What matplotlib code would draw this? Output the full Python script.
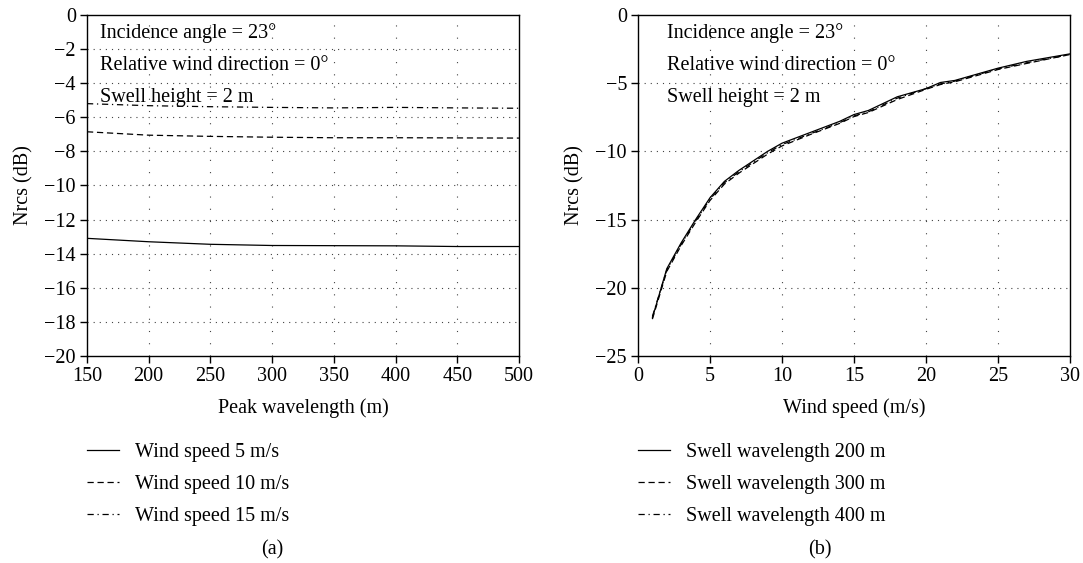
import matplotlib.pyplot as plt

plt.rcParams['font.family'] = ['Liberation Serif', 'DejaVu Serif']
plt.rcParams['font.size'] = 14.5

# (a) Nrcs against swell peak wavelength
peak_wl = [150, 200, 250, 300, 350, 400, 450, 500]
nrcs_ws5 = [-13.10, -13.30, -13.45, -13.52, -13.53, -13.54, -13.58, -13.58]
nrcs_ws10 = [-6.85, -7.05, -7.12, -7.17, -7.20, -7.20, -7.21, -7.22]
nrcs_ws15 = [-5.20, -5.32, -5.38, -5.42, -5.45, -5.42, -5.45, -5.47]

# (b) Nrcs against wind speed
wind = [1, 2, 3, 4, 5, 6, 7, 8, 9, 10, 12, 14, 15, 16, 18, 20, 21, 22, 25, 27, 30]
nrcs_sw200 = [-22.2, -18.6, -16.7, -15.0, -13.4, -12.2, -11.4, -10.7, -10.0, -9.4,
              -8.6, -7.8, -7.3, -7.0, -6.0, -5.4, -4.95, -4.8, -3.9, -3.4, -2.85]
nrcs_sw300 = [-22.3, -18.8, -16.9, -15.2, -13.6, -12.4, -11.6, -10.9, -10.2, -9.6,
              -8.75, -7.95, -7.45, -7.15, -6.2, -5.45, -5.1, -4.9, -4.0, -3.55, -2.9]
nrcs_sw400 = [-22.1, -18.7, -16.8, -15.1, -13.5, -12.3, -11.5, -10.8, -10.1, -9.5,
              -8.7, -7.9, -7.4, -7.1, -6.1, -5.4, -5.05, -4.85, -3.95, -3.5, -2.9]

notes = ['Incidence angle = 23°', 'Relative wind direction = 0°', 'Swell height = 2 m']

fig = plt.figure(figsize=(10.83, 5.63), dpi=100)
ax1 = fig.add_axes([0.0803, 0.3677, 0.3989, 0.6057])
ax2 = fig.add_axes([0.5891, 0.3677, 0.3989, 0.6057])

lw = 0.9
dash = (0, (5, 3))
dashdot = (0, (5, 3, 1, 3))

ax1.plot(peak_wl, nrcs_ws5, color='black', lw=lw, ls='-', label='Wind speed 5 m/s')
ax1.plot(peak_wl, nrcs_ws10, color='black', lw=lw, ls=dash, label='Wind speed 10 m/s')
ax1.plot(peak_wl, nrcs_ws15, color='black', lw=lw, ls=dashdot, label='Wind speed 15 m/s')
ax1.set_xlim(150, 500)
ax1.set_ylim(-20, 0)
ax1.set_xticks(range(150, 501, 50))
ax1.set_yticks(range(-20, 1, 2))
ax1.set_yticklabels([f'{v}'.replace('-', '\u2212') for v in range(-20, 1, 2)])
ax1.set_xlabel('Peak wavelength (m)', labelpad=9)
ax1.set_ylabel('Nrcs (dB)', labelpad=8)

ax2.plot(wind, nrcs_sw200, color='black', lw=lw, ls='-', label='Swell wavelength 200 m')
ax2.plot(wind, nrcs_sw300, color='black', lw=lw, ls=dash, label='Swell wavelength 300 m')
ax2.plot(wind, nrcs_sw400, color='black', lw=lw, ls=dashdot, label='Swell wavelength 400 m')
ax2.set_xlim(0, 30)
ax2.set_ylim(-25, 0)
ax2.set_xticks(range(0, 31, 5))
ax2.set_yticks(range(-25, 1, 5))
ax2.set_yticklabels([f'{v}'.replace('-', '\u2212') for v in range(-25, 1, 5)])
ax2.set_xlabel('Wind speed (m/s)', labelpad=9)
ax2.set_ylabel('Nrcs (dB)', labelpad=8)

for ax, tx in ((ax1, 0.03), (ax2, 0.067)):
    for sp in ax.spines.values():
        sp.set_linewidth(1.0)
    ax.tick_params(direction='out', length=5, width=1.0, pad=3)
    # sparse dotted grid on the inner ticks only
    for x in ax.get_xticks()[1:-1]:
        ax.axvline(x, color='#444444', lw=0.8, ls=(0, (1, 10)), zorder=0)
    for y in ax.get_yticks()[1:-1]:
        ax.axhline(y, color='#444444', lw=0.8, ls=(0, (1, 4.5)), zorder=0)
    for i, s in enumerate(notes):
        ax.text(tx, 0.947 - i * 0.094, s, transform=ax.transAxes, va='center', ha='left')
    ax.legend(loc='upper left', bbox_to_anchor=(0.0, -0.255), frameon=False,
              handlelength=1.6, handletextpad=0.8, labelspacing=0.63,
              borderpad=0, borderaxespad=0)

fig.text(0.251, 0.024, '(a)', ha='center', va='center')
fig.text(0.757, 0.024, '(b)', ha='center', va='center')

fig.savefig('out.png', dpi=100)
